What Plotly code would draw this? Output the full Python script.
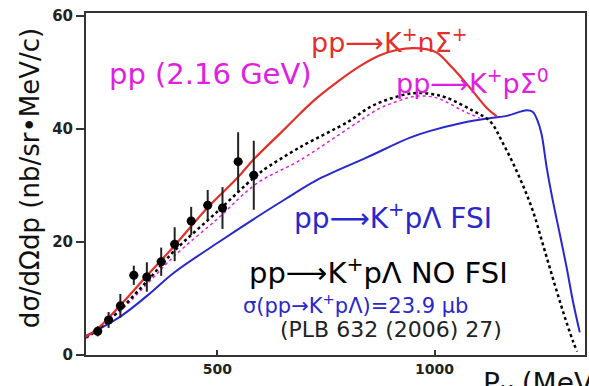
import plotly.graph_objects as go

# Measured kaon momentum spectrum, pp at 2.16 GeV
p_data = [225, 250, 277, 308, 338, 371, 402, 440, 478, 512, 548, 584]
xs_data = [4.2, 6.2, 8.7, 14.1, 13.8, 16.5, 19.6, 23.7, 26.5, 26.0, 34.2, 31.8]
xs_err = [0.9, 1.4, 2.1, 1.7, 2.6, 2.5, 3.0, 2.5, 2.7, 3.7, 5.2, 6.1]
p_err = [10] * 12

# pp -> K+ n Sigma+
p_ksig_plus = [198, 224, 276, 338, 401, 478, 546, 585, 650, 689, 728, 781, 830, 873, 915, 950, 980,
               1005, 1041, 1081, 1120, 1143]
xs_ksig_plus = [3.2, 4.6, 8.7, 14.0, 19.3, 26.1, 31.3, 34.7, 39.6, 42.6, 45.4, 48.6, 51.2, 53.0, 54.0,
                54.3, 54.1, 53.5, 50.8, 47.3, 43.7, 42.2]

# pp -> K+ p Sigma0
p_ksig0 = [198, 277, 339, 401, 502, 590, 689, 804, 873, 919, 949, 980, 1012, 1065, 1104]
xs_ksig0 = [3.0, 7.8, 12.6, 17.5, 24.2, 30.3, 34.4, 40.2, 43.6, 45.0, 45.7, 45.8, 45.3, 43.2, 41.9]

# pp -> K+ p Lambda without final state interaction
p_klam_nofsi = [198, 224, 276, 339, 401, 502, 583, 604, 689, 804, 850, 896, 949, 990, 1028, 1088,
                1127, 1157, 1196, 1226, 1249, 1272, 1295, 1318, 1328]
xs_klam_nofsi = [3.1, 4.4, 8.0, 13.1, 18.4, 25.5, 31.3, 32.6, 36.7, 41.4, 43.8, 45.3, 46.3, 46.2,
                 45.5, 43.2, 41.4, 37.5, 31.3, 25.5, 19.6, 13.6, 7.8, 2.5, 0.6]

# pp -> K+ p Lambda with final state interaction
p_klam_fsi = [198, 277, 339, 401, 502, 583, 657, 728, 843, 942, 988, 1065, 1127, 1166, 1212, 1226,
              1237, 1246, 1258, 1272, 1288, 1304, 1318, 1334]
xs_klam_fsi = [3.4, 6.8, 10.5, 14.6, 19.9, 24.0, 27.6, 30.9, 34.9, 38.4, 39.6, 41.1, 41.9, 42.3,
               43.3, 43.0, 41.4, 39.1, 33.1, 27.3, 21.4, 15.4, 9.6, 4.0]

x_ticks = [500, 1000]
y_ticks = [0, 20, 40, 60]

RED = "#e2302c"
MAGENTA = "#e020e0"
BLUE = "#2828cc"
FONT = "DejaVu Sans"

fig = go.Figure()

fig.add_trace(go.Scatter(x=p_klam_fsi, y=xs_klam_fsi, mode="lines", line_shape="spline",
                         line=dict(color=BLUE, width=2), showlegend=False))
fig.add_trace(go.Scatter(x=p_ksig0, y=xs_ksig0, mode="lines", line_shape="spline",
                         line=dict(color=MAGENTA, width=1.5, dash="dot"), showlegend=False))
fig.add_trace(go.Scatter(x=p_klam_nofsi, y=xs_klam_nofsi, mode="lines", line_shape="spline",
                         line=dict(color="black", width=2.5, dash="dot"), showlegend=False))
fig.add_trace(go.Scatter(x=p_ksig_plus, y=xs_ksig_plus, mode="lines", line_shape="spline",
                         line=dict(color=RED, width=2.2), showlegend=False))
fig.add_trace(go.Scatter(x=p_data, y=xs_data, mode="markers",
                         marker=dict(color="black", size=9, symbol="circle"),
                         error_y=dict(type="data", array=xs_err, color="#222", thickness=2, width=0),
                         error_x=dict(type="data", array=p_err, color="#222", thickness=2, width=0),
                         showlegend=False))

labels = [
    ("pp⟶K<sup>+</sup>nΣ<sup>+</sup>", 0.609, 0.921, RED, 27),
    ("pp (2.16 GeV)", 0.2495, 0.822, MAGENTA, 29),
    ("pp⟶K<sup>+</sup>pΣ<sup>0</sup>", 0.7745, 0.801, MAGENTA, 27),
    ("pp⟶K<sup>+</sup>pΛ FSI", 0.6158, 0.406, BLUE, 28),
    ("pp⟶K<sup>+</sup>pΛ NO FSI", 0.5868, 0.2456, "black", 29),
    ("σ(pp→K<sup>+</sup>pΛ)=23.9 μb", 0.540, 0.150, BLUE, 21),
    ("(PLB 632 (2006) 27)", 0.612, 0.074, "#222", 22),
]
for text, xp, yp, color, size in labels:
    fig.add_annotation(text=text, x=xp, y=yp, xref="paper", yref="paper",
                       xanchor="center", yanchor="middle", showarrow=False,
                       font=dict(family=FONT, size=size, color=color))

# Axis titles
fig.add_annotation(text="dσ/dΩdp (nb/sr•MeV/c)", x=-0.112, y=0.5175, xref="paper", yref="paper",
                   textangle=-90, showarrow=False, xanchor="center", yanchor="middle",
                   font=dict(family=FONT, size=26, color="#111"))
fig.add_annotation(text="P<sub>K</sub> (MeV/c)", x=0.792, y=-0.03, xref="paper", yref="paper",
                   xanchor="left", yanchor="top", showarrow=False,
                   font=dict(family=FONT, size=28, color="#111"))

fig.update_xaxes(range=[198, 1346], tickvals=x_ticks, ticks="inside", ticklen=5, tickwidth=2,
                 tickcolor="#333", showline=True, linecolor="#333", linewidth=2, mirror=True,
                 showgrid=False, zeroline=False,
                 tickfont=dict(family=FONT, size=14, color="#222", weight="bold"))
fig.update_yaxes(range=[0, 60.5], tickvals=y_ticks, ticks="outside", ticklen=8, tickwidth=2,
                 tickcolor="#333", showline=True, linecolor="#333", linewidth=2, mirror=True,
                 showgrid=False, zeroline=False,
                 tickfont=dict(family=FONT, size=15, color="#222", weight="bold"))

fig.update_layout(width=589, height=386, autosize=False,
                  margin=dict(l=86, r=2, t=13, b=31),
                  plot_bgcolor="white", paper_bgcolor="white")

fig.write_html("out.html")
